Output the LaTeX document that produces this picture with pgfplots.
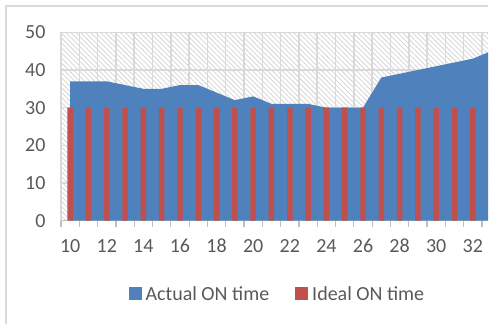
\documentclass[border=0pt]{standalone}
\usepackage{pgfplots}
\pgfplotsset{compat=1.18}
\usepackage{fontspec}
\setmainfont{Carlito}
\usetikzlibrary{patterns.meta}
\definecolor{blueC}{HTML}{4F81BD}
\definecolor{redC}{HTML}{C0504D}
\definecolor{gridC}{HTML}{D9D9D9}
\definecolor{axisC}{HTML}{BFBFBF}
\definecolor{txtC}{HTML}{595959}
\definecolor{hatchC}{HTML}{D9D9D9}
\begin{document}
\begin{tikzpicture}[x=1pt,y=1pt]
\useasboundingbox (0,0) rectangle (494,333);
\draw[gridC, line width=1.5pt] (6,9) -- (6,327) -- (488,327);
\begin{axis}[
  at={(61pt,112.3pt)}, anchor=south west,
  scale only axis, width=427pt, height=188.4pt,
  xmin=9.5, xmax=32.83, ymin=0, ymax=50,
  /pgf/number format/assume math mode=true,
  axis background/.style={pattern={Lines[angle=-45,distance=3.5pt,line width=0.9pt]}, pattern color=hatchC},
  xtick={10,12,...,32},
  minor xtick={9.5,10.5,...,32.5},
  ytick={0,10,...,50},
  major tick length=0pt,
  minor tick length=6pt,
  tick align=outside,
  xmajorgrids=false, xminorgrids=true, ymajorgrids=true,
  grid style={gridC, line width=1.5pt},
  minor grid style={gridC, line width=1.5pt},
  minor tick style={axisC, line width=1.2pt},
  axis x line*=bottom, axis y line*=left,
  x axis line style={axisC, line width=1.5pt, -},
  y axis line style={draw=none},
  tick label style={font=\fontsize{20}{24}\selectfont, text=txtC},
  xticklabel style={yshift=-15pt},
  yticklabel style={xshift=-12pt},
  legend style={at={(0.509,-0.389)}, anchor=center, draw=none, fill=none,
    font=\fontsize{20}{24}\selectfont, text=txtC,
    /tikz/every even column/.append style={column sep=22pt},
    nodes={inner xsep=4pt}},
  legend columns=2,
  legend cell align=left,
]
\addplot[fill=blueC, draw=none,
  legend image code/.code={\fill[blueC] (0pt,-6.5pt) rectangle (13pt,6.5pt);}]
  coordinates {(10,37)(11,37)(12,37)(13,36)(14,35)(15,35)(16,36)(17,36)(18,34)(19,32)(20,33)(21,31)(22,31)(23,31)(24,30)(25,30)(26,30)(27,38)(28,39)(29,40)(30,41)(31,42)(32,43)(33,45)} \closedcycle;
\addlegendentry{Actual ON time}
\addplot[ybar, bar width=0.3, fill=redC, draw=none,
  legend image code/.code={\fill[redC] (0pt,-6.5pt) rectangle (13pt,6.5pt);}]
  coordinates {(10,30)(11,30)(12,30)(13,30)(14,30)(15,30)(16,30)(17,30)(18,30)(19,30)(20,30)(21,30)(22,30)(23,30)(24,30)(25,30)(26,30)(27,30)(28,30)(29,30)(30,30)(31,30)(32,30)(33,30)};
\addlegendentry{Ideal ON time}
\end{axis}
\end{tikzpicture}
\end{document}
